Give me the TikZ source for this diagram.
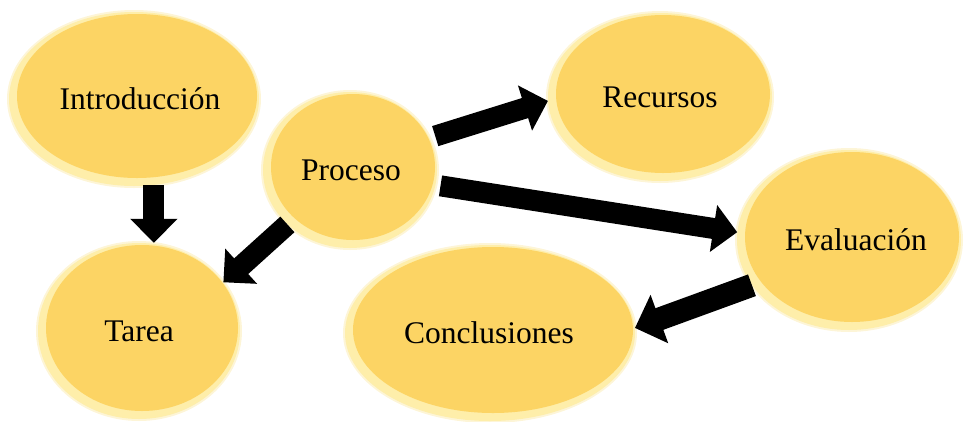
\documentclass[tikz,border=0pt]{standalone}
\usepackage{fontspec}
\setmainfont{Liberation Serif}
\usetikzlibrary{shapes.geometric,arrows.meta}
\definecolor{mainY}{RGB}{252,212,100}
\definecolor{rimY}{RGB}{254,238,170}
\definecolor{edgeY}{RGB}{250,225,140}
\tikzset{
  bubble/.style={ellipse, inner sep=0pt, font=\fontsize{31.5}{36}\selectfont, text=black},
  blk/.style={black, line width=21pt, -{Triangle[length=24pt,width=46pt]}}
}
\newcommand\bub[7]{%
  \fill[edgeY!35!white] (#2,#3) ellipse [x radius=#4+2, y radius=#5+2];
  \fill[rimY] (#2,#3) ellipse [x radius=#4, y radius=#5];
  \fill[mainY] (#2+3,#3-3) ellipse [x radius=#4-5, y radius=#5-5];
  \node[bubble, minimum width=2*#4 pt, minimum height=2*#5 pt] (#1) at (#2,#3) {\hspace*{#7pt}#6};}
\begin{document}
\begin{tikzpicture}[x=1pt,y=-1pt]
\useasboundingbox (0,0) rectangle (964,421);
\bub{intro}{134}{99}{125}{87}{Introducción}{12}
\bub{proc}{350}{170}{87}{78}{Proceso}{2}
\bub{rec}{660}{97}{112}{84}{Recursos}{0}
\bub{eva}{849}{240}{112}{90}{Evaluación}{14}
\bub{tar}{139}{331}{101}{88}{Tarea}{0}
\bub{con}{490}{333}{145}{88}{Conclusiones}{-2}
\draw[blk] (intro.-77) -- (intro.-77 |- tar.north);
\draw[blk] (proc.221) -- (tar.30);
\draw[blk, shorten <=6pt] (proc.22) -- (rec.182);
\draw[blk, shorten <=5pt] (proc.-10) -- (eva.176);
\draw[blk, line width=23pt, -{Triangle[length=26pt,width=50pt]}] (eva.205) -- (con.2);
\end{tikzpicture}
\end{document}
